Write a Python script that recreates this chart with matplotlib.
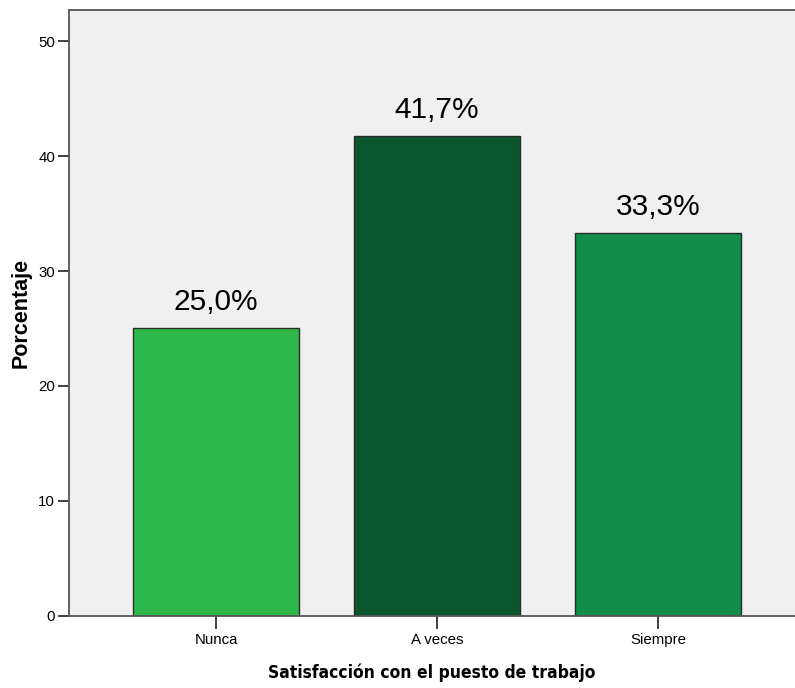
import matplotlib
matplotlib.use('Agg')
import matplotlib.pyplot as plt

# Data
categories = ['Nunca', 'A veces', 'Siempre']
percentages = [25.0, 41.7, 33.3]
bar_colors = ['#2EB84A', '#0B572D', '#118D4A']
y_ticks = [0, 10, 20, 30, 40, 50]

fig = plt.figure(figsize=(7.95, 6.88), dpi=100)
ax = fig.add_axes([0.0868, 0.1047, 0.9132, 0.8808])
ax.set_facecolor('#F0F0F0')

x = list(range(len(categories)))
bars = ax.bar(x, percentages, width=0.75, color=bar_colors,
              edgecolor='#2a2a2a', linewidth=1.0, zorder=2)

# value labels above bars
for bar, val in zip(bars, percentages):
    ax.annotate(f'{val:.1f}%'.replace('.', ','),
                (bar.get_x() + bar.get_width() / 2, bar.get_height()),
                xytext=(0, 13), textcoords='offset points',
                ha='center', va='baseline', fontsize=21.5,
                family='Liberation Sans')

ax.set_xlim(-0.665, 2.62)
ax.set_ylim(0, 52.7)
ax.set_xticks(x)
ax.set_xticklabels(categories, family='Liberation Sans', fontsize=10.8)
ax.set_yticks(y_ticks)
ax.set_yticklabels([str(t) for t in y_ticks], family='Liberation Sans', fontsize=10.8)
ax.tick_params(axis='y', length=8, width=1.3, color='#333333', pad=2)
ax.tick_params(axis='x', length=9, width=1.3, color='#333333', pad=3)

for side in ['left', 'bottom', 'top']:
    ax.spines[side].set_color('#555555')
    ax.spines[side].set_linewidth(1.3)
ax.spines['right'].set_visible(False)

ax.set_xlabel('Satisfacción con el puesto de trabajo', fontsize=12.5,
              fontweight='bold', family='DejaVu Sans', fontstretch='condensed',
              labelpad=12)
ax.set_ylabel('Porcentaje', fontsize=15.5, fontweight='bold',
              family='Liberation Sans', labelpad=5)

plt.savefig('out.png', dpi=100)
plt.close()
